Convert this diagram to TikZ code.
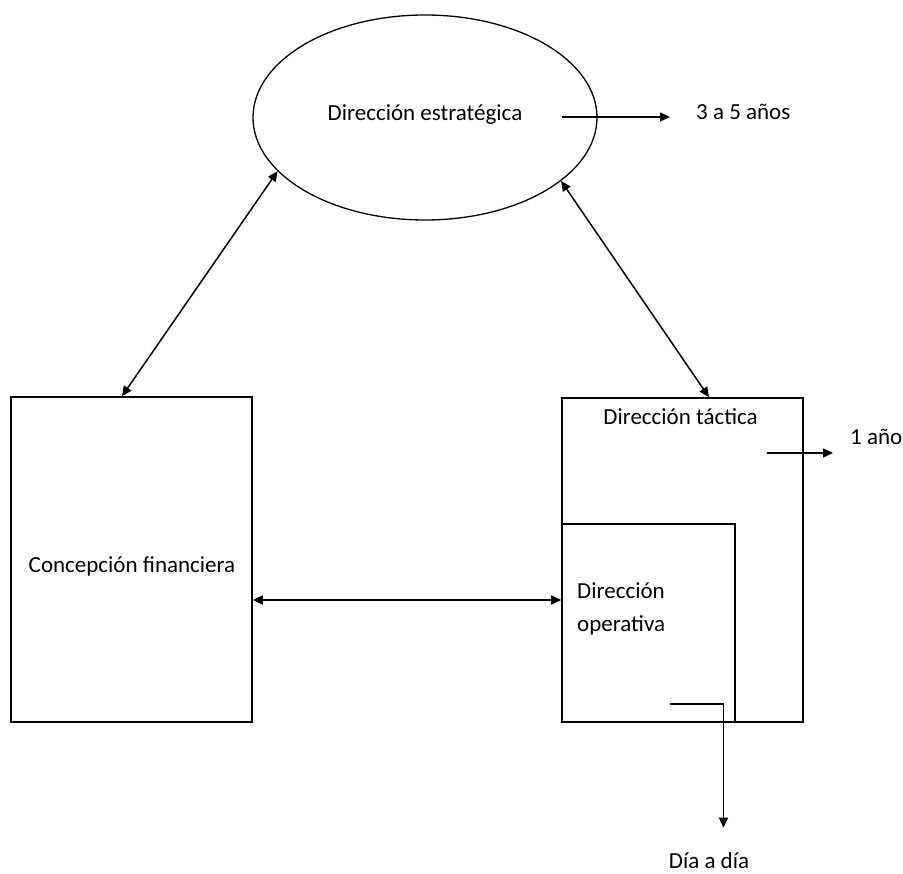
\documentclass[tikz,border=0pt]{standalone}
\usepackage{fontspec}
\setmainfont{Carlito}
\usetikzlibrary{arrows.meta,shapes.geometric}
\begin{document}
\begin{tikzpicture}[x=1pt,y=-1pt,
  txt/.style={font=\fontsize{23pt}{33pt}\selectfont, inner sep=0pt},
  frame/.style={draw, line width=1.6pt, inner sep=0pt},
  link/.style={line width=1.5pt, -{Triangle[length=10pt,width=9pt]}},
  twoway/.style={line width=1.5pt, {Triangle[length=10pt,width=9pt]}-{Triangle[length=10pt,width=9pt]}}]
\useasboundingbox (0,0) rectangle (903,874);

% strategic level
\node[draw, ellipse, line width=1.3pt, minimum width=344pt, minimum height=205pt, inner sep=0pt] (ell) at (425,117.5) {};
\node[txt] (estr) at (425,115) {Dirección estratégica};
\coordinate (es) at (562,117);
\node[txt, anchor=west] (t35) at (696,112) {3 a 5 años};

% financial concept
\node[frame, minimum width=241pt, minimum height=325pt] (cf) at (131.5,559.5) {};
\node[txt] (cft) at (132,566) {Concepción financiera};

% tactical and operational levels
\node[frame, minimum width=241pt, minimum height=324pt] (tac) at (682.5,560) {};
\node[frame, minimum width=173pt, minimum height=198pt] (op) at (648.5,623) {};
\node[txt] (tact) at (680.5,417) {Dirección táctica};
\node[txt, anchor=west, align=left] (opt) at (577,609) {Dirección\\operativa};
\coordinate (ta) at (767,453);
\node[txt, anchor=west] (t1) at (850,437) {1 año};
\coordinate (od) at (670,704);
\coordinate (oc) at (723.5,704);
\node[txt] (tdia) at (709,861) {Día a día};

% connectors
\draw[link] (es) -- ([xshift=-26pt]t35.west |- es);
\draw[twoway] (ell.200) -- ([xshift=-9.5pt]cf.north);
\draw[twoway] (ell.335) -- ([xshift=26.5pt]tac.north);
\coordinate (h) at (0,600);
\draw[twoway] (cf.east |- h) -- (op.west |- h);
\draw[link] (ta) -- ([xshift=-17pt]t1.west |- ta);
\draw[link, line cap=butt] (od) -- (oc) -- ([yshift=25pt]tdia.north -| oc);
\end{tikzpicture}
\end{document}
